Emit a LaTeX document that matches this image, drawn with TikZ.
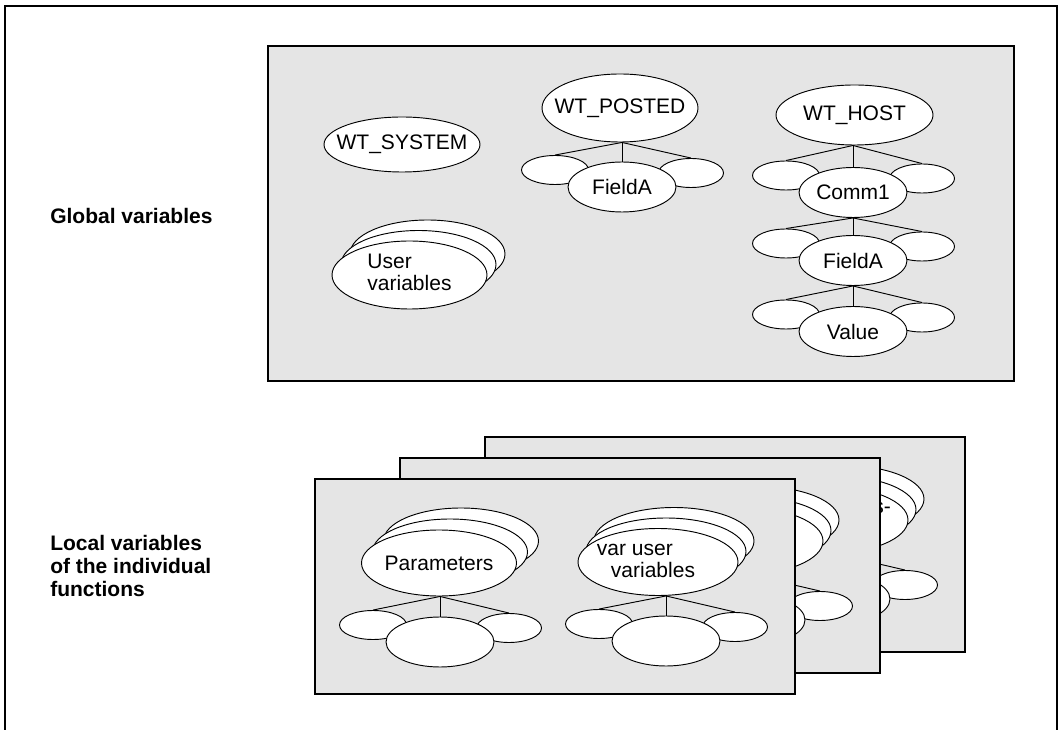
\documentclass[tikz,border=0pt]{standalone}
\usepackage{fontspec}
\setmainfont{Liberation Sans}
\usetikzlibrary{shapes.geometric,calc}
\definecolor{panelgray}{HTML}{E5E5E5}
\tikzset{
  ell/.style 2 args={ellipse, draw=black, fill=white, line width=0.7pt, inner sep=0pt,
    minimum width=#1*0.75pt, minimum height=#2*0.75pt},
  panel/.style={draw=black, fill=panelgray, line width=1.3pt},
  tline/.style={draw=black, line width=0.7pt},
  lbl/.style={font=\fontsize{15.75}{17.5}\selectfont\bfseries, inner sep=0pt, anchor=base west},
}
\newcommand\ltext[1]{\makebox[0pt]{#1}}
\newcommand\ltab[1]{\makebox[0pt]{\raisebox{-2.25pt}{\begin{tabular}{@{}l@{}}#1\end{tabular}}}}
% one tree level: parent, name, x, y, text of the centre child
\newcommand\treelevel[5]{%
  \node[ell={67}{29}] (#2L) at (#3-67,#4-17) {};
  \node[ell={65}{29}] (#2R) at (#3+69,#4-14) {};
  \node[ell={108}{50}] (#2) at (#3,#4) {#5};
  \coordinate (#2J) at (#2.north |- #1.south);
  \draw[tline] (#2J) -- (#2.north);
  \draw[tline] (#2J) -- (#2L.north);
  \draw[tline] (#2J) -- (#2R.north);
}
% stack of three ellipses: name, x, y, w, h, dx, dy, text
\newcommand\ellstack[8]{%
  \node[ell={#4}{#5}] (#1B) at ({#2+2*(#6)},{#3+2*(#7)}) {};
  \node[ell={#4}{#5}] (#1A) at ({#2+(#6)},{#3+(#7)}) {};
  \node[ell={#4}{#5}] (#1) at (#2,#3) {#8};
}
% local panel: prefix, dx, dy, text 1, text 2, extra
\newcommand\lpanel[6]{%
  \begin{scope}[shift={(#2,#3)}]
    \path[panel] (315,479) rectangle (795,694);
    \ellstack{#1p}{439}{563}{155}{66}{11}{-11}{#4}
    \treelevel{#1p}{#1pc}{440}{642}{}
    \ellstack{#1v}{658}{562}{160}{67}{8}{-10.5}{#5}
    \treelevel{#1v}{#1vc}{666}{641}{}
    #6
  \end{scope}}
\begin{document}
\begin{tikzpicture}[x=0.75pt, y=-0.75pt, font=\fontsize{15.75}{17}\selectfont]
\useasboundingbox (0,0) rectangle (1060,730);
% outer frame (open at the bottom)
\draw[line width=1.3pt] (5,730) -- (5,6) -- (1057,6) -- (1057,730);

% labels
\node[lbl] (glob) at (50,224) {Global variables};
\node[lbl] (loc) at (50,550) {\begin{tabular}[t]{@{}l@{}}Local variables\\of the individual\\functions\end{tabular}};

% global panel
\path[panel] (268,46) rectangle (1014,381);
\node[ell={156}{55}] (sys) at (402,144.5) {\ltext{WT\_SYSTEM}};
\ellstack{uv}{409.5}{275}{155}{68}{9}{-10.5}{\ltab{User\\variables}}
\node[ell={156}{68}] (posted) at (620,108) {\ltext{WT\_POSTED}};
\treelevel{posted}{pfa}{622}{187}{\ltext{FieldA}}
\node[ell={157}{60}] (host) at (854.5,115) {\ltext{WT\_HOST}};
\treelevel{host}{comm}{853}{192.5}{\ltext{Comm1}}
\treelevel{comm}{hfa}{853}{260.5}{\ltext{FieldA}}
\treelevel{hfa}{val}{853}{331.5}{\ltext{Value}}

% local panels, back to front
\lpanel{b}{170}{-42}{}{}{\node[anchor=base east, inner sep=0pt] (bs) at ($(bv)+(63,-7)$) {s-};}
\lpanel{m}{85}{-21}{}{}{}
\lpanel{f}{0}{0}{\ltext{Parameters}}{\makebox[0pt]{\raisebox{-2.25pt}{\begin{tabular}{@{}l@{}}var user\\\hspace{10.5pt}variables\end{tabular}}\hspace{18pt}}}{}
\end{tikzpicture}
\end{document}
